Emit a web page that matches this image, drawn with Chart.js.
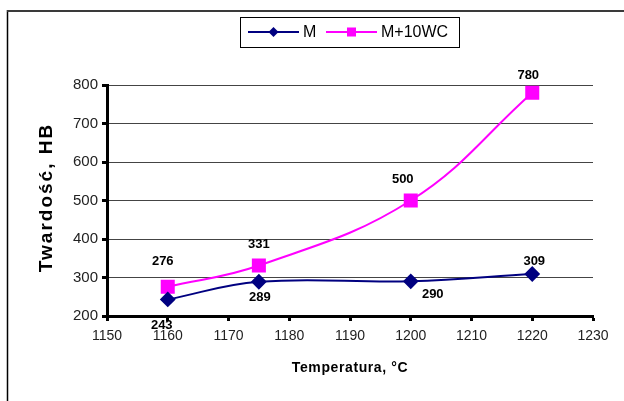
<!DOCTYPE html>
<html>
<head>
<meta charset="utf-8">
<script src="https://cdn.jsdelivr.net/npm/chart.js@4/dist/chart.umd.min.js"></script>
<style>
  html, body { margin: 0; padding: 0; background: #fff; }
  #wrap { width: 624px; height: 401px; }
</style>
</head>
<body>
<div id="wrap"><canvas id="chart" width="624" height="401"></canvas></div>
<script>
// ─── DATA ───
const temps = [1160, 1175, 1200, 1220];
const hardM = [243, 289, 290, 309];
const hardMWC = [276, 331, 500, 780];
const seriesNames = ['M', 'M+10WC'];
const xTitle = 'Temperatura, °C';
const yTitle = 'Twardość, HB';

// label offsets from each point (dx, dy), per series
const LABEL_OFFSETS = [
  [[-6, 26], [1, 16], [22, 13], [2, -13]],
  [[-5, -25], [0, -21], [-8, -21], [-4, -17]],
];

const FONT = "'Liberation Sans', Arial, sans-serif";
Chart.defaults.font.family = FONT;
Chart.defaults.color = '#222';

// frame lines (left + top only) and axis titles with letter spacing
const framePlugin = {
  id: 'frame',
  beforeDraw(chart) {
    const c = chart.ctx;
    c.save();
    c.fillStyle = '#fff';
    c.fillRect(0, 0, chart.width, chart.height);
    c.strokeStyle = '#000';
    c.lineWidth = 1.5;
    c.beginPath(); c.moveTo(7.5, 10); c.lineTo(7.5, chart.height); c.stroke();
    c.strokeStyle = '#3a3a3a';
    c.lineWidth = 2;
    c.beginPath(); c.moveTo(7, 11); c.lineTo(chart.width, 11); c.stroke();
    c.restore();
  },
  afterDraw(chart) {
    const c = chart.ctx, a = chart.chartArea;
    c.save();
    c.fillStyle = '#000';
    c.textAlign = 'center';
    c.textBaseline = 'middle';
    c.font = `bold 14px ${FONT}`;
    c.letterSpacing = '0.6px';
    c.fillText(xTitle, (a.left + a.right) / 2, 368);
    c.font = `bold 19px ${FONT}`;
    c.letterSpacing = '2px';
    c.translate(47, (a.top + a.bottom) / 2 - 3);
    c.rotate(-Math.PI / 2);
    c.fillText(yTitle, 0, 0);
    c.restore();
  },
};

// value labels next to points
const valueLabels = {
  id: 'valueLabels',
  afterDatasetsDraw(chart) {
    const c = chart.ctx;
    c.save();
    c.font = `bold 13px ${FONT}`;
    c.fillStyle = '#000';
    c.textAlign = 'center';
    c.textBaseline = 'middle';
    chart.data.datasets.forEach((ds, i) => {
      chart.getDatasetMeta(i).data.forEach((pt, j) => {
        const [dx, dy] = LABEL_OFFSETS[i][j];
        c.fillText(String(ds.data[j].y), pt.x + dx, pt.y + dy);
      });
    });
    c.restore();
  },
};

// boxed legend with line + marker samples
const boxLegend = {
  id: 'boxLegend',
  afterDraw(chart) {
    const c = chart.ctx;
    c.save();
    const x0 = 240, y0 = 17, w = 219, h = 30, cy = y0 + h / 2;
    c.fillStyle = '#fff';
    c.fillRect(x0, y0, w, h);
    c.strokeStyle = '#000';
    c.lineWidth = 1;
    c.strokeRect(x0 + 0.5, y0 + 0.5, w, h);
    c.font = `16px ${FONT}`;
    c.textBaseline = 'middle';
    const starts = [248, 326];
    chart.data.datasets.forEach((ds, i) => {
      const sx = starts[i];
      c.strokeStyle = ds.borderColor;
      c.lineWidth = 2;
      c.beginPath(); c.moveTo(sx, cy); c.lineTo(sx + 51, cy); c.stroke();
      c.fillStyle = ds.backgroundColor;
      const mx = sx + 25.5;
      if (ds.pointStyle === 'rectRot') {
        c.beginPath();
        c.moveTo(mx, cy - 5); c.lineTo(mx + 5, cy); c.lineTo(mx, cy + 5); c.lineTo(mx - 5, cy);
        c.closePath(); c.fill();
      } else {
        c.fillRect(mx - 4.5, cy - 4.5, 9, 9);
      }
      c.fillStyle = '#000';
      c.fillText(ds.label, sx + 55, cy + 1);
    });
    c.restore();
  },
};

const toXY = (ys) => temps.map((t, i) => ({ x: t, y: ys[i] }));

new Chart(document.getElementById('chart'), {
  type: 'line',
  data: {
    datasets: [
      {
        label: seriesNames[0], data: toXY(hardM),
        borderColor: '#000080', backgroundColor: '#000080',
        borderWidth: 2, tension: 0.4,
        pointStyle: 'rectRot', pointRadius: 6.5, pointHoverRadius: 6.5,
      },
      {
        label: seriesNames[1], data: toXY(hardMWC),
        borderColor: '#ff00ff', backgroundColor: '#ff00ff',
        borderWidth: 2, tension: 0.4,
        pointStyle: 'rect', pointRadius: 8.5, pointHoverRadius: 8.5,
      },
    ],
  },
  options: {
    responsive: false,
    animation: false,
    layout: { padding: { left: 18, right: 31, top: 85, bottom: 12 } },
    plugins: { legend: { display: false }, tooltip: { enabled: false } },
    scales: {
      x: {
        type: 'linear', min: 1150, max: 1230, z: 1,
        ticks: { stepSize: 10, font: { size: 14 }, color: '#222', padding: 7, callback: v => String(v) },
        grid: { drawOnChartArea: false, drawTicks: true, tickLength: 5, tickWidth: 3, tickColor: '#000' },
        border: { color: '#000', width: 3 },
        afterFit(scale) { scale.height = 73; },
      },
      y: {
        min: 200, max: 800,
        ticks: { stepSize: 100, font: { size: 15 }, color: '#222', padding: 4 },
        grid: { color: '#444', lineWidth: 1, tickLength: 5, tickWidth: 3, tickColor: '#000' },
        border: { color: '#000', width: 3 },
        afterFit(scale) { scale.width = 89; },
      },
    },
  },
  plugins: [framePlugin, valueLabels, boxLegend],
});
</script>
</body>
</html>
